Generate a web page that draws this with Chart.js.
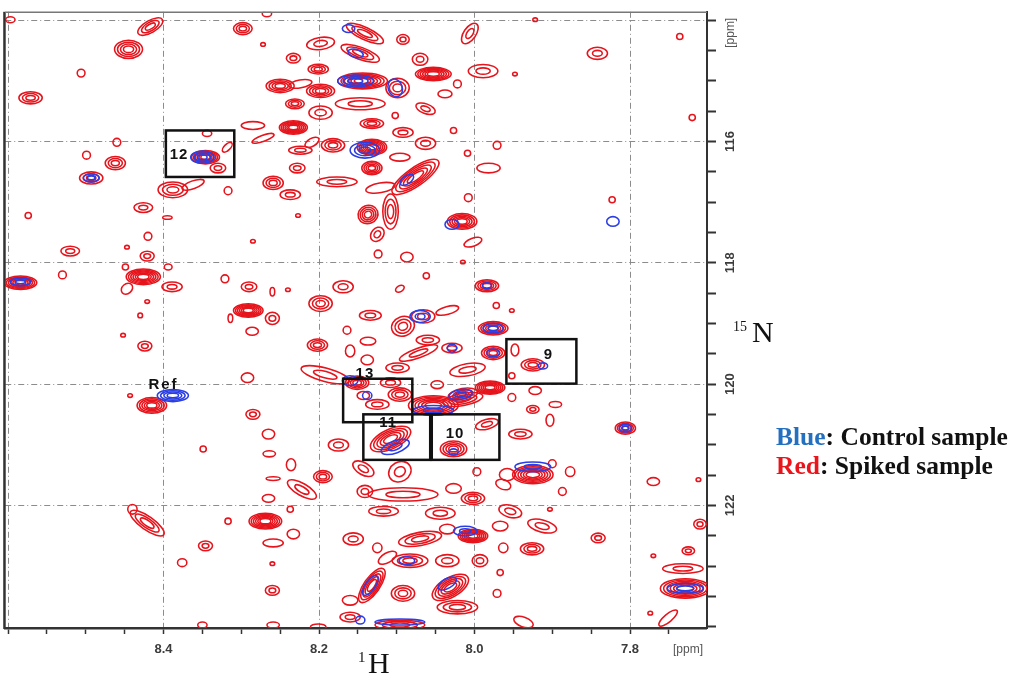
<!DOCTYPE html>
<html>
<head>
<meta charset="utf-8">
<title>1H-15N HSQC overlay</title>
<script src="https://cdn.jsdelivr.net/npm/chart.js@4.4.1/dist/chart.umd.min.js"></script>
<style>
    html, body { margin: 0; padding: 0; background: #fff; }
    #wrap { position: relative; width: 1024px; height: 680px; }
</style>
</head>
<body>
<div id="wrap"><canvas id="hsqc" width="1024" height="680"></canvas></div>
<script>
'use strict';

/* ── Axes (ppm) ── */
var H_RANGE = [7.701, 8.6036];          // 1H, drawn reversed
var N_RANGE = [113.859, 124.022];       // 15N, drawn reversed
var H_STEP = 0.05;
var N_STEP = 0.5;
var H_GRID = [7.8, 8.0, 8.2, 8.4, 8.6];
var H_LABELS = [7.8, 8.0, 8.2, 8.4];
var N_GRID = [114, 116, 118, 120, 122];
var N_LABELS = [116, 118, 120, 122];

/* ── Peaks : [1H ppm, 15N ppm, half-width 1H, half-width 15N, contour levels, tilt deg] ── */
var SPIKED = [
    [8.597, 113.989, 0.006, 0.05, 1, 0], [8.417, 114.103, 0.018, 0.10, 3, -30],
    [8.445, 114.478, 0.018, 0.15, 4, 0], [8.506, 114.870, 0.005, 0.065, 1, 0],
    [8.571, 115.278, 0.015, 0.10, 3, 0], [8.298, 114.136, 0.012, 0.10, 3, 0],
    [8.272, 114.397, 0.003, 0.03, 1, 0], [8.267, 113.891, 0.006, 0.05, 1, 0],
    [8.233, 114.625, 0.009, 0.08, 2, 0], [8.198, 114.381, 0.018, 0.10, 2, -8],
    [8.201, 114.805, 0.013, 0.08, 3, 0], [8.250, 115.082, 0.018, 0.11, 4, 0],
    [8.224, 115.049, 0.015, 0.065, 1, -10], [8.198, 115.164, 0.018, 0.11, 4, 0],
    [8.231, 115.376, 0.012, 0.08, 3, 0], [8.198, 115.522, 0.015, 0.11, 2, 0],
    [8.233, 115.767, 0.018, 0.11, 6, 0], [8.285, 115.735, 0.015, 0.065, 1, 0],
    [8.272, 115.947, 0.015, 0.05, 1, -20], [8.344, 115.865, 0.006, 0.05, 1, 0],
    [8.346, 116.257, 0.018, 0.11, 6, 0], [8.318, 116.093, 0.008, 0.05, 1, -45],
    [8.330, 116.436, 0.010, 0.08, 2, 0], [8.460, 116.012, 0.005, 0.065, 1, 0],
    [8.499, 116.224, 0.005, 0.065, 1, 0], [8.462, 116.354, 0.013, 0.11, 3, 0],
    [8.493, 116.599, 0.015, 0.10, 3, 0], [8.388, 116.795, 0.019, 0.13, 3, 0],
    [8.362, 116.713, 0.015, 0.065, 1, -20], [8.426, 117.088, 0.012, 0.08, 2, 0],
    [8.574, 117.219, 0.004, 0.05, 1, 0], [8.317, 116.811, 0.005, 0.065, 1, 0],
    [8.395, 117.252, 0.006, 0.03, 1, 0], [8.259, 116.681, 0.013, 0.11, 3, 0],
    [8.228, 116.436, 0.010, 0.08, 2, 0], [8.224, 116.142, 0.015, 0.065, 2, 0],
    [8.209, 116.012, 0.010, 0.065, 1, -30], [8.237, 116.876, 0.013, 0.08, 2, 0],
    [8.182, 116.061, 0.015, 0.11, 3, 0], [8.177, 116.664, 0.026, 0.08, 2, 0],
    [8.227, 117.219, 0.003, 0.03, 1, 0], [8.141, 114.217, 0.026, 0.10, 3, 25],
    [8.147, 114.544, 0.026, 0.10, 3, 20], [8.144, 115.000, 0.032, 0.13, 6, 0],
    [8.099, 115.115, 0.015, 0.16, 3, 0], [8.092, 114.315, 0.008, 0.08, 2, 0],
    [8.070, 114.642, 0.010, 0.10, 2, 0], [8.053, 114.886, 0.023, 0.11, 6, 0],
    [8.022, 115.049, 0.005, 0.065, 1, 0], [8.038, 115.213, 0.009, 0.065, 1, 0],
    [8.063, 115.457, 0.013, 0.08, 2, 20], [8.147, 115.376, 0.032, 0.10, 2, 0],
    [8.132, 115.702, 0.015, 0.08, 3, 0], [8.092, 115.849, 0.013, 0.08, 2, 0],
    [8.102, 115.571, 0.004, 0.05, 1, 0], [8.027, 115.816, 0.004, 0.05, 1, 0],
    [8.132, 116.093, 0.019, 0.13, 6, 0], [8.096, 116.257, 0.013, 0.065, 1, 0],
    [8.063, 116.028, 0.013, 0.10, 2, 0], [8.132, 116.436, 0.013, 0.11, 4, 0],
    [8.076, 116.583, 0.036, 0.15, 5, -35], [8.121, 116.762, 0.019, 0.08, 1, -10],
    [8.108, 117.154, 0.010, 0.29, 3, 0], [8.125, 117.529, 0.010, 0.10, 2, -50],
    [8.137, 117.203, 0.013, 0.15, 4, -20], [8.006, 114.217, 0.015, 0.10, 2, -55],
    [7.922, 113.989, 0.003, 0.03, 1, 0], [7.842, 114.544, 0.013, 0.10, 2, 0],
    [7.736, 114.266, 0.004, 0.05, 1, 0], [7.720, 115.604, 0.004, 0.05, 1, 0],
    [7.989, 114.837, 0.019, 0.11, 2, 0], [7.948, 114.886, 0.003, 0.03, 1, 0],
    [7.971, 116.061, 0.005, 0.065, 1, 0], [8.009, 116.191, 0.004, 0.05, 1, 0],
    [7.982, 116.436, 0.015, 0.08, 1, 0], [8.008, 116.925, 0.005, 0.065, 1, 0],
    [8.016, 117.317, 0.019, 0.13, 5, 0], [7.823, 116.958, 0.004, 0.05, 1, 0],
    [8.002, 117.659, 0.012, 0.065, 1, -20], [8.124, 117.855, 0.005, 0.065, 1, 0],
    [8.087, 117.904, 0.008, 0.08, 1, 0], [8.015, 117.986, 0.003, 0.03, 1, 0],
    [8.062, 118.214, 0.004, 0.05, 1, 0], [8.169, 118.394, 0.013, 0.10, 2, 0],
    [8.198, 118.671, 0.015, 0.13, 3, 0], [8.134, 118.866, 0.014, 0.08, 2, 0],
    [8.035, 118.785, 0.015, 0.065, 1, -15], [8.066, 118.883, 0.015, 0.11, 2, 0],
    [8.096, 118.426, 0.006, 0.05, 1, -30], [7.984, 118.377, 0.015, 0.10, 4, 0],
    [7.972, 118.703, 0.004, 0.05, 1, 0], [7.952, 118.785, 0.003, 0.03, 1, 0],
    [8.092, 119.046, 0.015, 0.16, 3, -20], [8.060, 119.274, 0.015, 0.08, 2, 0],
    [7.976, 119.079, 0.019, 0.11, 5, 0], [8.137, 119.291, 0.010, 0.065, 1, 0],
    [8.160, 119.454, 0.006, 0.10, 1, 0], [8.029, 119.405, 0.013, 0.08, 2, 0],
    [8.072, 119.486, 0.026, 0.08, 2, -20], [7.976, 119.486, 0.015, 0.11, 4, 0],
    [8.138, 119.601, 0.008, 0.08, 1, 0], [8.099, 119.731, 0.015, 0.08, 2, 0],
    [8.009, 119.764, 0.023, 0.10, 2, -10], [7.948, 119.437, 0.005, 0.10, 1, 0],
    [7.925, 119.682, 0.015, 0.10, 3, 0], [7.952, 119.862, 0.004, 0.05, 1, 0],
    [7.980, 120.057, 0.019, 0.11, 6, 0], [8.048, 120.009, 0.008, 0.065, 1, 0],
    [8.015, 120.172, 0.019, 0.10, 3, -10], [7.922, 120.106, 0.008, 0.065, 1, 0],
    [7.925, 120.416, 0.008, 0.065, 2, 0], [7.896, 120.335, 0.008, 0.05, 1, 0],
    [7.903, 120.596, 0.005, 0.10, 1, 0], [7.952, 120.221, 0.005, 0.065, 1, 0],
    [7.806, 120.726, 0.013, 0.10, 4, 0], [8.202, 119.356, 0.013, 0.10, 3, 0],
    [8.192, 119.845, 0.032, 0.11, 2, 15], [8.151, 119.976, 0.015, 0.11, 4, 0],
    [8.108, 119.976, 0.013, 0.08, 2, 0], [8.096, 120.172, 0.015, 0.11, 3, 0],
    [8.125, 120.335, 0.015, 0.08, 2, 0], [8.143, 120.188, 0.008, 0.065, 1, 0],
    [8.053, 120.351, 0.032, 0.16, 6, 0], [8.015, 120.253, 0.026, 0.10, 3, -10],
    [8.108, 120.906, 0.028, 0.16, 5, -25], [8.027, 121.069, 0.017, 0.13, 4, 0],
    [7.984, 120.661, 0.015, 0.08, 2, -15], [7.941, 120.824, 0.015, 0.08, 2, 0],
    [8.175, 121.004, 0.013, 0.10, 2, 0], [8.195, 121.526, 0.012, 0.10, 3, 0],
    [8.096, 121.444, 0.015, 0.16, 2, -30], [8.141, 121.770, 0.010, 0.10, 2, 0],
    [8.092, 121.819, 0.045, 0.11, 2, 0], [8.027, 121.721, 0.010, 0.08, 1, 0],
    [8.002, 121.884, 0.015, 0.10, 3, 0], [7.958, 121.493, 0.010, 0.10, 1, 0],
    [7.925, 121.493, 0.026, 0.15, 6, 0], [7.900, 121.313, 0.005, 0.065, 1, 0],
    [7.877, 121.444, 0.006, 0.08, 1, 0], [7.887, 121.770, 0.005, 0.065, 1, 0],
    [7.997, 121.444, 0.005, 0.065, 1, 0], [7.963, 121.656, 0.010, 0.08, 1, 20],
    [7.954, 122.097, 0.015, 0.10, 2, 15], [7.903, 122.064, 0.003, 0.03, 1, 0],
    [7.913, 122.341, 0.019, 0.10, 2, 15], [7.926, 122.716, 0.015, 0.10, 3, 0],
    [7.963, 122.700, 0.006, 0.08, 1, 0], [7.967, 123.108, 0.004, 0.05, 1, 0],
    [7.971, 123.451, 0.005, 0.065, 1, 0], [7.937, 123.924, 0.013, 0.08, 1, 20],
    [7.841, 122.537, 0.009, 0.08, 2, 0], [7.770, 121.607, 0.008, 0.065, 1, 0],
    [7.712, 121.575, 0.003, 0.03, 1, 0], [7.710, 122.309, 0.008, 0.08, 2, 0],
    [7.725, 122.749, 0.008, 0.065, 2, 0], [7.770, 122.831, 0.003, 0.03, 1, 0],
    [7.732, 123.043, 0.026, 0.08, 2, 0], [7.729, 123.369, 0.032, 0.16, 6, 0],
    [7.751, 123.858, 0.015, 0.065, 1, -40], [7.774, 123.777, 0.003, 0.03, 1, 0],
    [8.117, 122.097, 0.019, 0.08, 2, 0], [8.044, 122.129, 0.019, 0.10, 2, 0],
    [8.002, 122.504, 0.019, 0.11, 6, 0], [7.967, 122.341, 0.010, 0.08, 1, 0],
    [8.156, 122.553, 0.013, 0.10, 2, 0], [8.070, 122.553, 0.028, 0.11, 3, -10],
    [8.125, 122.700, 0.006, 0.08, 1, 0], [8.083, 122.912, 0.023, 0.11, 3, 0],
    [8.112, 122.863, 0.013, 0.08, 1, -30], [8.035, 122.912, 0.015, 0.10, 2, 0],
    [7.993, 122.912, 0.010, 0.10, 2, 0], [8.132, 123.320, 0.026, 0.13, 5, -55],
    [8.031, 123.353, 0.026, 0.16, 5, -30], [8.092, 123.451, 0.015, 0.13, 3, 0],
    [8.022, 123.679, 0.026, 0.11, 3, 0], [8.160, 123.842, 0.013, 0.08, 2, 0],
    [8.096, 123.973, 0.032, 0.08, 3, 0], [8.164, 119.111, 0.005, 0.065, 1, 0],
    [8.143, 121.395, 0.015, 0.10, 2, 30], [8.035, 122.390, 0.010, 0.08, 1, 0],
    [8.420, 117.562, 0.005, 0.065, 1, 0], [8.520, 117.806, 0.012, 0.08, 2, 0],
    [8.447, 117.741, 0.003, 0.03, 1, 0], [8.421, 117.888, 0.009, 0.08, 2, 0],
    [8.530, 118.198, 0.005, 0.065, 1, 0], [8.584, 118.328, 0.021, 0.11, 6, 0],
    [8.449, 118.067, 0.004, 0.05, 1, 0], [8.426, 118.230, 0.022, 0.13, 6, 0],
    [8.447, 118.426, 0.008, 0.08, 1, -40], [8.394, 118.067, 0.005, 0.05, 1, 0],
    [8.389, 118.394, 0.013, 0.08, 2, 0], [8.421, 118.638, 0.003, 0.03, 1, 0],
    [8.430, 118.866, 0.003, 0.04, 1, 0], [8.452, 119.193, 0.003, 0.03, 1, 0],
    [8.424, 119.372, 0.009, 0.08, 2, 0], [8.291, 118.785, 0.019, 0.11, 6, 0],
    [8.290, 118.394, 0.010, 0.08, 2, 0], [8.321, 118.263, 0.005, 0.065, 1, 0],
    [8.314, 118.915, 0.003, 0.07, 1, 0], [8.260, 118.915, 0.009, 0.10, 2, 0],
    [8.286, 119.128, 0.008, 0.065, 1, 0], [8.285, 117.643, 0.003, 0.03, 1, 0],
    [8.260, 118.475, 0.003, 0.07, 1, 0], [8.240, 118.443, 0.003, 0.03, 1, 0],
    [8.292, 119.894, 0.008, 0.08, 1, 0], [8.415, 120.351, 0.019, 0.13, 5, 0],
    [8.443, 120.188, 0.003, 0.03, 1, 0], [8.285, 120.498, 0.009, 0.08, 2, 0],
    [8.265, 120.824, 0.008, 0.08, 1, 0], [8.264, 121.150, 0.008, 0.05, 1, 0],
    [8.349, 121.069, 0.004, 0.05, 1, 0], [8.236, 121.330, 0.006, 0.10, 1, 0],
    [8.259, 121.558, 0.009, 0.03, 1, 0], [8.222, 121.738, 0.021, 0.10, 2, 30],
    [8.265, 121.884, 0.008, 0.065, 1, 0], [8.237, 122.064, 0.004, 0.05, 1, 0],
    [8.269, 122.260, 0.021, 0.13, 6, 0], [8.317, 122.260, 0.004, 0.05, 1, 0],
    [8.421, 122.292, 0.026, 0.11, 3, 35], [8.440, 122.064, 0.006, 0.08, 1, 0],
    [8.259, 122.619, 0.013, 0.065, 1, 0], [8.233, 122.472, 0.008, 0.08, 1, 0],
    [8.346, 122.667, 0.009, 0.08, 2, 0], [8.376, 122.945, 0.006, 0.065, 1, 0],
    [8.260, 122.961, 0.003, 0.03, 1, 0], [8.260, 123.402, 0.009, 0.08, 2, 0],
    [8.160, 123.565, 0.010, 0.08, 1, 0], [8.350, 123.973, 0.006, 0.05, 1, 0],
    [8.259, 123.973, 0.008, 0.05, 1, 0], [8.201, 124.005, 0.010, 0.05, 1, 0]
];

var CONTROL = [
    [8.162, 114.136, 0.008, 0.065, 1, 0], [8.153, 114.544, 0.010, 0.065, 1, 15],
    [8.153, 115.000, 0.023, 0.10, 3, 0], [8.102, 115.115, 0.009, 0.15, 1, -20],
    [8.141, 116.142, 0.019, 0.13, 3, 0], [8.087, 116.632, 0.010, 0.065, 1, -35],
    [8.350, 116.257, 0.015, 0.10, 3, 0], [8.493, 116.599, 0.010, 0.065, 2, 0],
    [7.822, 117.317, 0.008, 0.08, 1, 0], [8.029, 117.366, 0.009, 0.08, 1, 0],
    [8.584, 118.312, 0.013, 0.065, 2, 0], [8.388, 120.188, 0.020, 0.10, 4, 0],
    [8.070, 118.883, 0.013, 0.10, 2, 0], [7.984, 118.377, 0.006, 0.05, 1, 0],
    [7.976, 119.079, 0.013, 0.08, 2, 0], [8.029, 119.405, 0.006, 0.065, 1, 0],
    [7.976, 119.486, 0.008, 0.065, 1, 0], [7.912, 119.699, 0.006, 0.05, 1, 0],
    [8.018, 120.172, 0.015, 0.08, 2, -10], [8.160, 119.943, 0.010, 0.08, 1, 0],
    [8.053, 120.433, 0.026, 0.08, 2, 0], [8.102, 121.036, 0.019, 0.10, 2, -20],
    [8.027, 121.118, 0.006, 0.05, 1, 0], [7.806, 120.726, 0.008, 0.065, 2, 0],
    [7.925, 121.363, 0.023, 0.08, 2, 0], [8.012, 122.423, 0.015, 0.08, 2, 0],
    [7.729, 123.369, 0.023, 0.08, 2, 0], [8.134, 123.320, 0.015, 0.08, 1, -55],
    [8.035, 123.288, 0.013, 0.08, 1, -30], [8.096, 123.924, 0.032, 0.05, 1, 0],
    [8.147, 123.891, 0.006, 0.065, 1, 0], [8.087, 122.912, 0.010, 0.065, 1, 0],
    [8.138, 120.188, 0.006, 0.065, 1, 0]
];

/* ── Boîtes annotées (ppm) ── */
var BOX_LABELS = ['12', '13', '11', '10', '9'];
var BOX_H = [[8.397, 8.309], [8.169, 8.080], [8.143, 8.057], [8.055, 7.968], [7.959, 7.869]];
var BOX_N = [[115.816, 116.583], [119.911, 120.628], [120.498, 121.249], [120.498, 121.249], [119.258, 119.992]];
var BOX_LABEL_AT = [[8.380, 116.224], [8.141, 119.829], [8.111, 120.645], [8.025, 120.824], [7.905, 119.519]];
var REF_LABEL_AT = [8.400, 120.009];

/* ── Couleurs ── */
var RED = '#e6141c';
var BLUE = '#2a3ee4';

function onList(v, list) {
    return list.some(function (m) { return Math.abs(m - v) < 1e-6; });
}

function toPoints(rows) {
    return rows.map(function (r) { return { x: r[0], y: r[1] }; });
}

/* Contours : ellipses concentriques autour de chaque pic */
var contourPlugin = {
    id: 'contours',
    afterDatasetsDraw: function (chart) {
        var ctx = chart.ctx, a = chart.chartArea;
        var xs = chart.scales.x, ys = chart.scales.y;
        ctx.save();
        ctx.beginPath();
        ctx.rect(a.left, a.top, a.right - a.left, a.bottom - a.top);
        ctx.clip();
        chart.data.datasets.forEach(function (ds, i) {
            var meta = chart.getDatasetMeta(i);
            ctx.strokeStyle = ds.borderColor;
            ctx.lineWidth = 1.55;
            meta.data.forEach(function (pt, j) {
                var p = ds.peaks[j];
                var rx = Math.abs(xs.getPixelForValue(p[0] + p[2]) - pt.x);
                var ry = Math.abs(ys.getPixelForValue(p[1] + p[3]) - pt.y);
                var n = p[4], rot = p[5] * Math.PI / 180;
                for (var k = 0; k < n; k++) {
                    var f = n === 1 ? 1 : 1 - k * 0.72 / (n - 0.6);
                    ctx.beginPath();
                    ctx.ellipse(pt.x, pt.y, Math.max(rx * f, 1), Math.max(ry * f, 1), rot, 0, Math.PI * 2);
                    ctx.stroke();
                }
            });
        });
        ctx.restore();
    }
};

/* Boîtes noires + numéros */
var boxPlugin = {
    id: 'boxes',
    afterDatasetsDraw: function (chart) {
        var ctx = chart.ctx, xs = chart.scales.x, ys = chart.scales.y;
        ctx.save();
        ctx.strokeStyle = '#111';
        ctx.lineWidth = 2.5;
        BOX_H.forEach(function (h, i) {
            var x1 = xs.getPixelForValue(h[0]), x2 = xs.getPixelForValue(h[1]);
            var y1 = ys.getPixelForValue(BOX_N[i][0]), y2 = ys.getPixelForValue(BOX_N[i][1]);
            ctx.strokeRect(x1, y1, x2 - x1, y2 - y1);
        });
        ctx.fillStyle = '#111';
        ctx.font = 'bold 15px "Liberation Sans", Arial, sans-serif';
        ctx.textAlign = 'center';
        ctx.textBaseline = 'middle';
        ctx.letterSpacing = '1px';
        BOX_LABELS.forEach(function (lab, i) {
            var at = BOX_LABEL_AT[i];
            ctx.fillText(lab, xs.getPixelForValue(at[0]), ys.getPixelForValue(at[1]));
        });
        ctx.font = 'bold 15px "Liberation Sans", Arial, sans-serif';
        ctx.letterSpacing = '2px';
        ctx.fillText('Ref', xs.getPixelForValue(REF_LABEL_AT[0]), ys.getPixelForValue(REF_LABEL_AT[1]));
        ctx.restore();
    }
};

/* Cadre, titres d'axes, légende */
var framePlugin = {
    id: 'frame',
    afterDraw: function (chart) {
        var ctx = chart.ctx, a = chart.chartArea;
        ctx.save();
        // cadre gauche et haut
        ctx.fillStyle = '#333';
        ctx.fillRect(a.left - 2, a.top, 2.5, a.bottom - a.top + 1);
        ctx.strokeStyle = '#777';
        ctx.lineWidth = 1.5;
        ctx.beginPath();
        ctx.moveTo(a.left, a.top + 0.5);
        ctx.lineTo(a.right, a.top + 0.5);
        ctx.stroke();

        // [ppm]
        ctx.fillStyle = '#555';
        ctx.font = '12px "Liberation Sans", Arial, sans-serif';
        ctx.textAlign = 'center';
        ctx.textBaseline = 'alphabetic';
        ctx.fillText('[ppm]', a.right - 19, a.bottom + 25);
        ctx.save();
        ctx.translate(a.right + 24, a.top + 21);
        ctx.rotate(-Math.PI / 2);
        ctx.textBaseline = 'middle';
        ctx.fillText('[ppm]', 0, 0);
        ctx.restore();

        // 1H
        ctx.fillStyle = '#111';
        ctx.textAlign = 'left';
        ctx.textBaseline = 'alphabetic';
        ctx.font = '15px "Liberation Serif", "Times New Roman", serif';
        ctx.fillText('1', 358, 662);
        ctx.font = '30px "Liberation Serif", "Times New Roman", serif';
        ctx.fillText('H', 368, 673);

        // 15N
        ctx.font = '14px "Liberation Serif", "Times New Roman", serif';
        ctx.fillText('15', 733, 331);
        ctx.font = '30px "Liberation Serif", "Times New Roman", serif';
        ctx.fillText('N', 752, 342);

        // légende
        ctx.font = 'bold 25.5px "Liberation Serif", "Times New Roman", serif';
        var rows = [['Blue', '#2470c0', ': Control sample', 445], ['Red', '#e8161c', ': Spiked sample', 474]];
        rows.forEach(function (r) {
            ctx.fillStyle = r[1];
            ctx.fillText(r[0], 776, r[3]);
            var w = ctx.measureText(r[0]).width;
            ctx.fillStyle = '#111';
            ctx.fillText(r[2], 776 + w, r[3]);
        });
        ctx.restore();
    }
};

var gridColor = function (list) {
    return function (c) { return onList(c.tick.value, list) ? '#8c8c8c' : 'rgba(0,0,0,0)'; };
};

new Chart(document.getElementById('hsqc'), {
    type: 'scatter',
    data: {
        datasets: [
            { label: 'Spiked sample', data: toPoints(SPIKED), peaks: SPIKED,
              borderColor: RED, backgroundColor: RED, pointRadius: 0, pointHoverRadius: 0 },
            { label: 'Control sample', data: toPoints(CONTROL), peaks: CONTROL,
              borderColor: BLUE, backgroundColor: BLUE, pointRadius: 0, pointHoverRadius: 0 }
        ]
    },
    options: {
        responsive: false,
        animation: false,
        events: [],
        layout: { padding: { left: 5, top: 5, right: 277, bottom: 0 } },
        plugins: { legend: { display: false }, tooltip: { enabled: false } },
        scales: {
            x: {
                type: 'linear',
                position: 'bottom',
                reverse: true,
                min: H_RANGE[0],
                max: H_RANGE[1],
                afterFit: function (s) { s.height = 52; },
                ticks: {
                    stepSize: H_STEP,
                    includeBounds: false,
                    autoSkip: false,
                    maxRotation: 0,
                    padding: 8,
                    color: '#3c3c3c',
                    font: { family: '"Liberation Sans", Arial, sans-serif', size: 13, weight: 'bold' },
                    callback: function (v) { return onList(v, H_LABELS) ? v.toFixed(1) : ''; }
                },
                grid: {
                    color: gridColor(H_GRID),
                    lineWidth: 1,
                    tickColor: '#333',
                    tickLength: 6,
                    tickWidth: 1.5
                },
                border: { display: true, color: '#333', width: 2.5, dash: [6, 3, 1, 3] }
            },
            y: {
                type: 'linear',
                position: 'right',
                reverse: true,
                min: N_RANGE[0],
                max: N_RANGE[1],
                afterFit: function (s) { s.width = 40; },
                ticks: {
                    stepSize: N_STEP,
                    includeBounds: false,
                    autoSkip: false,
                    minRotation: 90,
                    maxRotation: 90,
                    crossAlign: 'center',
                    padding: 4,
                    color: '#3c3c3c',
                    font: { family: '"Liberation Sans", Arial, sans-serif', size: 13, weight: 'bold' },
                    callback: function (v) { return onList(v, N_LABELS) ? String(v) : ''; }
                },
                grid: {
                    color: gridColor(N_GRID),
                    lineWidth: 1,
                    tickColor: '#333',
                    tickLength: 9,
                    tickWidth: 2
                },
                border: { display: true, color: '#333', width: 2, dash: [6, 3, 1, 3] }
            }
        }
    },
    plugins: [contourPlugin, boxPlugin, framePlugin]
});
</script>
</body>
</html>
